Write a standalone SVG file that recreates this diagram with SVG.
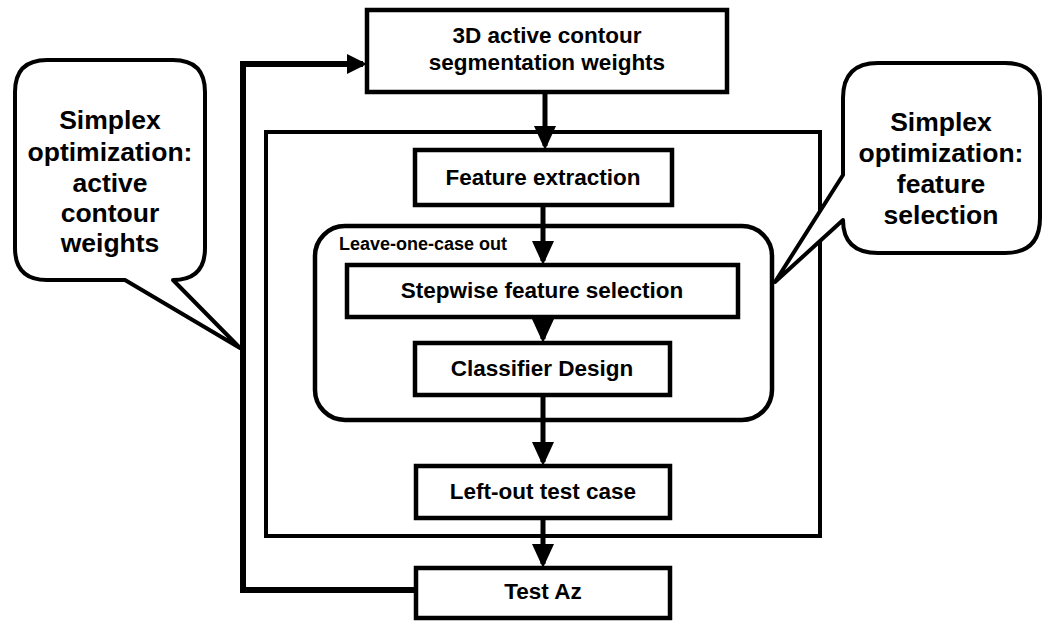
<svg xmlns="http://www.w3.org/2000/svg" width="1050" height="630" viewBox="0 0 1050 630">
<style>
  .box { fill: #fff; stroke: #000; stroke-width: 4.5; }
  .frame { fill: none; stroke: #000; stroke-width: 4; }
  .call { fill: #fff; stroke: #000; stroke-width: 4; stroke-linejoin: round; }
  .t { font-family: "Liberation Sans", Arial, sans-serif; font-weight: bold; font-size: 22.5px; text-anchor: middle; fill: #000; }
  .ct { font-family: "Liberation Sans", Arial, sans-serif; font-weight: bold; font-size: 26.5px; text-anchor: middle; fill: #000; }
  .lbl { font-family: "Liberation Sans", Arial, sans-serif; font-weight: bold; font-size: 18px; fill: #000; }
  .conn { fill: none; stroke: #000; stroke-width: 5; }
  .fb { fill: none; stroke: #000; stroke-width: 6; stroke-linejoin: miter; }
</style>
<defs>
  <marker id="ah" viewBox="0 0 24 22" refX="20" refY="11" markerWidth="24" markerHeight="22" markerUnits="userSpaceOnUse" orient="auto">
    <path d="M0,0 L24,11 L0,22 Z" fill="#000"/>
  </marker>
  <marker id="ah2" viewBox="0 0 20 20" refX="16" refY="10" markerWidth="20" markerHeight="20" markerUnits="userSpaceOnUse" orient="auto">
    <path d="M0,0 L20,10 L0,20 Z" fill="#000"/>
  </marker>
</defs>
<rect width="1050" height="630" fill="#fff"/>

<g id="outer-frame">
  <rect class="frame" x="266" y="132" width="554" height="404"/>
</g>
<g id="leave-one-case-out">
  <rect class="frame" x="315" y="226" width="457" height="194" rx="30" ry="30" style="stroke-width:4.5"/>
  <text class="lbl" x="339" y="250">Leave-one-case out</text>
</g>

<g id="connectors">
  <path class="conn" d="M545,92 V146" marker-end="url(#ah)"/>
  <path class="conn" d="M543,205 V261" marker-end="url(#ah)"/>
  <path class="conn" d="M543,317 V339" marker-end="url(#ah)"/>
  <path class="conn" d="M543,395 V462" marker-end="url(#ah)"/>
  <path class="conn" d="M543,518 V564" marker-end="url(#ah)"/>
  <path class="fb" d="M416,590 H243 V64 H363" marker-end="url(#ah2)"/>
</g>

<g id="top-box">
  <rect class="box" x="367" y="10" width="360" height="82"/>
  <text class="t" x="547" y="43">3D active contour</text>
  <text class="t" x="547" y="70">segmentation weights</text>
</g>
<g id="feature-extraction">
  <rect class="box" x="415" y="150" width="257" height="55"/>
  <text class="t" x="543" y="185">Feature extraction</text>
</g>
<g id="stepwise">
  <rect class="box" x="347" y="265" width="391" height="52"/>
  <text class="t" x="542" y="298">Stepwise feature selection</text>
</g>
<g id="classifier">
  <rect class="box" x="415" y="343" width="255" height="52"/>
  <text class="t" x="542" y="376">Classifier Design</text>
</g>
<g id="left-out">
  <rect class="box" x="416" y="466" width="254" height="52"/>
  <text class="t" x="543" y="499">Left-out test case</text>
</g>
<g id="test-az">
  <rect class="box" x="416" y="568" width="254" height="50"/>
  <text class="t" x="543" y="599">Test Az</text>
</g>

<g id="callout-left">
  <path class="call" d="M47,60 H173 Q205,60 205,92 V248 Q205,280 173,280 L240,348 L125,280 H47 Q15,280 15,248 V92 Q15,60 47,60 Z"/>
  <text class="ct" x="110" y="129">Simplex</text>
  <text class="ct" x="110" y="161">optimization:</text>
  <text class="ct" x="110" y="192">active</text>
  <text class="ct" x="110" y="222">contour</text>
  <text class="ct" x="110" y="252">weights</text>
</g>
<g id="callout-right">
  <path class="call" d="M878,63 H1005 Q1040,63 1040,98 V218 Q1040,253 1005,253 H878 Q843,253 843,220 L775,282 L843,175 V98 Q843,63 878,63 Z"/>
  <text class="ct" x="941" y="131">Simplex</text>
  <text class="ct" x="941" y="162">optimization:</text>
  <text class="ct" x="941" y="193">feature</text>
  <text class="ct" x="941" y="224">selection</text>
</g>
</svg>
